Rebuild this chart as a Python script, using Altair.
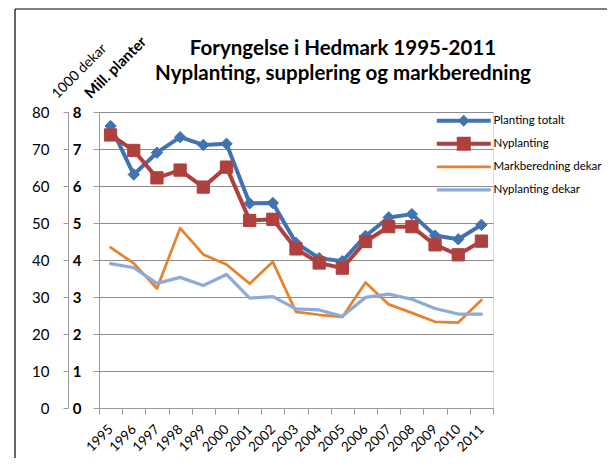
import altair as alt
import pandas as pd

years = [str(y) for y in range(1995, 2012)]

# Mill. planter (inner axis 0-8)
planting_totalt = [7.62, 6.31, 6.90, 7.32, 7.11, 7.14, 5.53, 5.54, 4.46, 4.05, 3.97, 4.65, 5.15, 5.24, 4.66, 4.56, 4.95]
nyplanting = [7.38, 6.96, 6.22, 6.43, 5.97, 6.51, 5.07, 5.10, 4.30, 3.92, 3.78, 4.50, 4.90, 4.90, 4.41, 4.14, 4.51]
# 1000 dekar (outer axis 0-80)
markberedning_dekar = [43.4, 39.1, 32.3, 48.6, 41.5, 38.8, 33.6, 39.5, 26.0, 25.2, 24.6, 33.9, 28.0, 25.7, 23.3, 23.1, 29.2]
nyplanting_dekar = [39.0, 37.9, 33.7, 35.3, 33.1, 36.1, 29.7, 30.1, 26.8, 26.5, 24.8, 29.9, 30.8, 29.4, 26.9, 25.4, 25.4]

series_names = ["Planting totalt", "Nyplanting", "Markberedning dekar", "Nyplanting dekar"]
series_colors = ["#4273B1", "#AF403D", "#E5832F", "#8EAAD6"]
series_widths = [4, 4, 2.75, 3.25]
series_values = [planting_totalt, nyplanting, markberedning_dekar, nyplanting_dekar]

rows = []
for name, vals in zip(series_names, series_values):
    for yr, v in zip(years, vals):
        rows.append({"year": yr, "series": name, "value": v})
df = pd.DataFrame(rows)

FONT = "Lato"
AXIS_GREY = "#9a9a9a"
GRID_GREY = "#8c8c8c"

# legend symbols: a line with (optional) marker; invisible moves equalise row heights
legend_shape = (
    "datum.value === 'Planting totalt' ? "
    "'M-2.86,-0.857M-2.86,0.857M-6.71,0L1,0M-2.86,-0.45L-2.41,0L-2.86,0.45L-3.31,0Z' : "
    "datum.value === 'Nyplanting' ? "
    "'M-2.86,-0.857M-2.86,0.857M-6.71,0L1,0M-3.57,-0.72L-2.14,-0.72L-2.14,0.72L-3.57,0.72Z' : "
    "datum.value === 'Markberedning dekar' ? "
    "'M-2.86,-1.214M-2.86,1.214M-6.71,0L1,0' : "
    "'M-2.86,-1.071M-2.86,1.071M-6.71,0L1,0'"
)
legend_width = (
    "(datum.value === 'Planting totalt' || datum.value === 'Nyplanting') ? 4 : "
    "(datum.value === 'Markberedning dekar' ? 2.75 : 3.25)"
)

legend = alt.Legend(
    title=None, orient="none", legendX=379, legendY=3, symbolSize=196,
    labelOffset=4, rowPadding=-6, labelFont=FONT, labelFontSize=11.5,
    labelColor="black", padding=0, labelLimit=300,
    symbolType={"expr": legend_shape},
    symbolStrokeWidth={"expr": legend_width},
    symbolFillColor={"expr": "scale('color', datum.value)"},
    symbolOpacity=1,
)

color = alt.Color("series:N", scale=alt.Scale(domain=series_names, range=series_colors), legend=legend)

x = alt.X(
    "year:O", sort=years,
    scale=alt.Scale(type="band", paddingInner=0, paddingOuter=0),
    axis=alt.Axis(title=None, tickBand="extent", labelAngle=315, labelAlign="right",
                  labelBaseline="middle", labelPadding=13, tickSize=6,
                  domainColor=AXIS_GREY, tickColor=AXIS_GREY, labelFont=FONT,
                  labelFontSize=13.5, labelColor="black", grid=False),
)

y_inner = alt.Y(
    "value:Q", scale=alt.Scale(domain=[0, 8], nice=False, zero=True),
    axis=alt.Axis(orient="left", values=list(range(0, 9)), title="Mill. planter",
                  titleAngle=315, titleX=16, titleY=-45, titleAlign="center",
                  titleBaseline="middle", titleFont=FONT, titleFontSize=15,
                  titleFontWeight="bold", titleColor="black",
                  labelFont=FONT, labelFontSize=15, labelFontWeight="bold",
                  labelColor="black", labelPadding=12, tickSize=6,
                  grid=True, gridColor=GRID_GREY, gridWidth=1,
                  domainColor=AXIS_GREY, tickColor=AXIS_GREY),
)

y_outer = alt.Y(
    "value:Q", scale=alt.Scale(domain=[0, 80], nice=False, zero=True),
    axis=alt.Axis(orient="left", offset=31, values=list(range(0, 81, 10)), title="1000 dekar",
                  titleAngle=315, titleX=11, titleY=-41, titleAlign="center",
                  titleBaseline="middle", titleFont=FONT, titleFontSize=14,
                  titleFontWeight="normal", titleColor="black",
                  labelFont=FONT, labelFontSize=15, labelFontWeight="normal",
                  labelColor="black", labelPadding=14, tickSize=5,
                  grid=False, domainColor=AXIS_GREY, tickColor=AXIS_GREY),
)

base = alt.Chart(df)


def line_layer(name, width, y):
    return base.transform_filter(alt.datum.series == name).mark_line(
        strokeWidth=width, strokeJoin="round", strokeCap="round"
    ).encode(x=x, y=y, color=color)


def point_layer(name, shape, size, col, y):
    return base.transform_filter(alt.datum.series == name).mark_point(
        shape=shape, filled=True, size=size, color=col, opacity=1, strokeWidth=1, stroke=col
    ).encode(x=x, y=y)


planting = alt.layer(
    line_layer(series_names[0], series_widths[0], y_inner),
    point_layer(series_names[0], "diamond", 130, series_colors[0], y_inner),
    line_layer(series_names[1], series_widths[1], y_inner),
    point_layer(series_names[1], "square", 150, series_colors[1], y_inner),
)

dekar = alt.layer(
    line_layer(series_names[2], series_widths[2], y_outer),
    line_layer(series_names[3], series_widths[3], y_outer),
)

# chart-area frame: top and left edges (the rest lies outside the picture)
frame_df = pd.DataFrame({"a": [0]})
frame_top = alt.Chart(frame_df).mark_rule(color="black", strokeWidth=1.2).encode(
    x=alt.value(-84), x2=alt.value(520), y=alt.value(-103)
)
frame_left = alt.Chart(frame_df).mark_rule(color="black", strokeWidth=1.2).encode(
    x=alt.value(-84), y=alt.value(-103), y2=alt.value(360)
)

chart = alt.layer(frame_top, frame_left, planting, dekar).resolve_scale(y="independent").properties(
    width=394, height=296,
    autosize=alt.AutoSizeParams(type="none"),
    padding={"left": 91, "top": 104, "right": 114, "bottom": 50},
    title=alt.TitleParams(
        ["Foryngelse i Hedmark 1995-2011", "Nyplanting, supplering og markberedning"],
        font=FONT, fontSize=20.5, fontWeight="bold", color="black",
        anchor="middle", dx=47, offset=-76, lineHeight=25,
    ),
).configure_view(stroke=None).configure(background="white")

chart.save("out.html", embed_options={"renderer": "svg", "actions": False})
